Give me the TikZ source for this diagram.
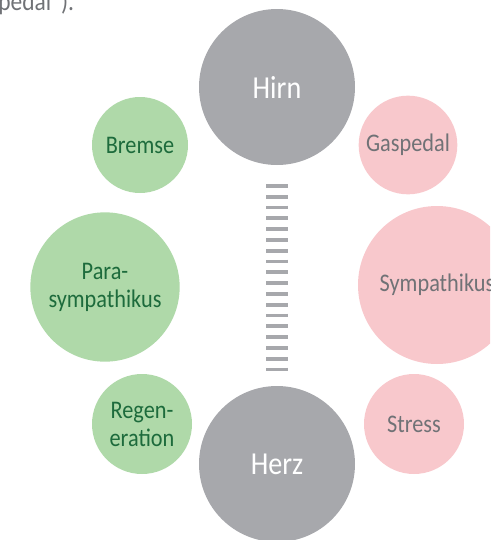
\documentclass[tikz,border=0pt]{standalone}
\usepackage{fontspec}
\setmainfont[FakeStretch=0.88]{Carlito}
\definecolor{organgrau}{HTML}{A7A8AC}
\definecolor{ruhegruen}{HTML}{AFD9A9}
\definecolor{stressrosa}{HTML}{F8C8CC}
\definecolor{gruentext}{HTML}{1D6B3C}
\definecolor{grautext}{HTML}{707276}

\tikzset{
  organ/.style={circle,fill=organgrau,text=white,inner sep=0pt,outer sep=0pt,
    minimum size=117pt,font=\fontsize{24}{28}\selectfont},
  ruhe/.style={circle,fill=ruhegruen,text=gruentext,inner sep=0pt,outer sep=0pt,
    align=center,font=\fontsize{19}{21}\selectfont},
  stress/.style={circle,fill=stressrosa,text=grautext,inner sep=0pt,outer sep=0pt,
    align=center,font=\fontsize{19}{21}\selectfont},
  sprossen/.style={draw=organgrau,line width=16.5pt,dash pattern=on 2.8pt off 5.3pt,
    shorten <=14.25pt,shorten >=11.25pt}
}

\begin{document}
\begin{tikzpicture}[x=0.75pt,y=-0.75pt]
  \useasboundingbox (0,0) rectangle (490,540);
  \clip (0,0) rectangle (490,540);

  % end of the text above
  \node[anchor=base west,inner sep=0pt,text=grautext,font=\fontsize{20}{24}\selectfont] (vortext) at (-2,10) {pedal“).};

  % Hirn and Herz
  \node[organ] (hirn) at (277,87) {Hirn};
  \node[organ] (herz) at (277,464) {Herz};
  \draw[sprossen] (hirn) -- (herz); % ladder between them

  % left side (green)
  \node[ruhe,minimum size=72pt] (bremse) at (140,145) {Bremse};
  \node[ruhe,minimum size=112pt] (para) at (105,287) {Para-\\sympathikus};
  \node[ruhe,minimum size=75pt] (regen) at (142,424) {Regen-\\eration};

  % right side (pink)
  \node[stress,minimum size=74pt] (gas) at (408,145) {Gaspedal};
  \node[stress,minimum size=118.5pt] (sympathikus) at (437,285) {Sympathikus};
  \node[stress,minimum size=75pt] (stressnode) at (414,424) {Stress};
\end{tikzpicture}
\end{document}
